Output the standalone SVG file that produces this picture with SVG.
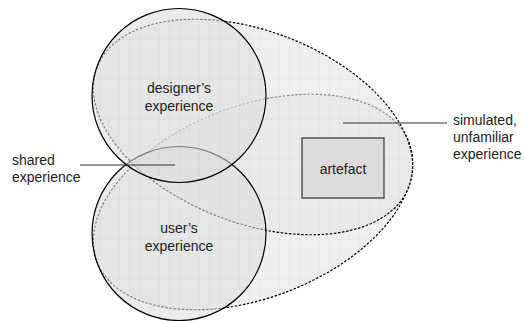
<svg xmlns="http://www.w3.org/2000/svg" width="525" height="321" viewBox="0 0 525 321">
  <style>
    .txt { font-family: "Liberation Sans", Arial, sans-serif; font-size: 14px; fill: #222; }
    .mid { text-anchor: middle; }
    .region { fill: #e6e6e6; fill-opacity: 0.6; stroke: #000; stroke-width: 1.2; stroke-dasharray: 2.5 1.6; }
    .circle { fill: #dedede; fill-opacity: 0.58; stroke: #000; stroke-width: 1.2; }
    .leader { stroke: #333; stroke-width: 1.2; fill: none; }
  </style>
  <defs>
    <pattern id="grid" width="10" height="10" patternUnits="userSpaceOnUse">
      <path d="M10 0 V10 M0 10 H10" stroke="#000" stroke-opacity="0.035" stroke-width="1" fill="none"/>
    </pattern>
    <clipPath id="egg">
      <ellipse cx="253" cy="202" rx="167" ry="96" transform="rotate(-21 253 202)"/>
      <ellipse cx="253" cy="127" rx="167" ry="96" transform="rotate(21 253 127)"/>
      <circle cx="179" cy="95.5" r="87"/>
      <circle cx="179" cy="233.5" r="87"/>
    </clipPath>
  </defs>

  <rect width="525" height="321" fill="#fff"/>

  <!-- experience regions stretched towards the artefact -->
  <g id="user-stretch">
    <ellipse class="region" cx="253" cy="202" rx="167" ry="96" transform="rotate(-21 253 202)"/>
  </g>
  <g id="designer-stretch">
    <ellipse class="region" cx="253" cy="127" rx="167" ry="96" transform="rotate(21 253 127)"/>
  </g>

  <!-- user and designer experience -->
  <g id="user">
    <circle class="circle" cx="179" cy="233.5" r="87"/>
    <text class="txt mid" x="179" y="233">user’s</text>
    <text class="txt mid" x="179" y="251">experience</text>
  </g>
  <g id="designer">
    <circle class="circle" cx="179" cy="95.5" r="87"/>
    <text class="txt mid" x="179" y="93">designer’s</text>
    <text class="txt mid" x="179" y="111">experience</text>
  </g>

  <!-- faint grid texture over the shaded area -->
  <rect width="525" height="321" fill="url(#grid)" clip-path="url(#egg)"/>

  <g id="artefact">
    <rect x="302" y="138" width="82" height="60" fill="#dcdcdc" stroke="#333" stroke-width="1.2"/>
    <text class="txt mid" x="343" y="174">artefact</text>
  </g>

  <g id="shared-label">
    <text class="txt" x="12" y="165">shared</text>
    <text class="txt" x="12" y="182">experience</text>
  </g>

  <g id="simulated-label">
    <text class="txt" x="453" y="125">simulated,</text>
    <text class="txt" x="453" y="142">unfamiliar</text>
    <text class="txt" x="453" y="159">experience</text>
  </g>

  <g id="connectors">
    <line class="leader" x1="80" y1="165" x2="175" y2="165"/>
    <line class="leader" x1="343" y1="123" x2="447" y2="123"/>
  </g>
</svg>
